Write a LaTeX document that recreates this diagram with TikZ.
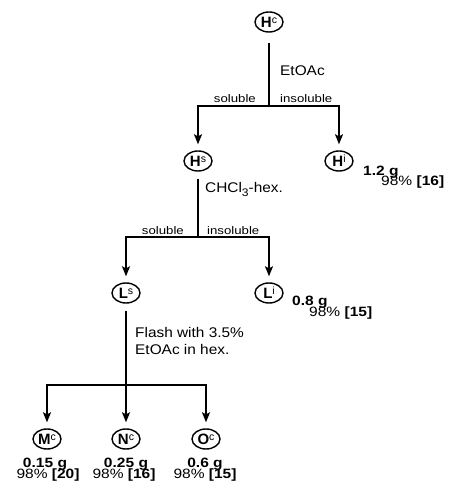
\documentclass[tikz,border=0pt]{standalone}
\usepackage{fontspec}
\usepackage{graphicx}
\setmainfont{Liberation Sans}
\newfontfamily\labf[FakeStretch=1.1]{Liberation Sans}
\newfontfamily\solf[FakeStretch=1.2]{Liberation Sans}
\usetikzlibrary{arrows.meta,shapes.geometric}
\newcommand{\cmpd}[2]{\textbf{#1}\raisebox{4pt}{\fontsize{10.5}{10}\selectfont #2}}
\newcommand{\dtx}[1]{\scalebox{1.15}[1]{#1}}
\begin{document}
\begin{tikzpicture}[x=1pt,y=1pt,
  cmp/.style={ellipse,draw,line width=1.4pt,minimum width=28pt,minimum height=20pt,inner sep=0pt,font=\fontsize{15}{15}\selectfont},
  ln/.style={line width=1.2pt},
  arr/.style={ln,-{Stealth[length=10pt,width=8pt,inset=2pt]},shorten >=6pt},
  lab/.style={font=\labf\fontsize{14}{14}\selectfont,inner sep=0pt},
  sol/.style={font=\solf\fontsize{11}{11}\selectfont,inner sep=0pt},
  dat/.style={font=\fontsize{13.5}{13}\selectfont,inner sep=0pt}]
\useasboundingbox (0,0) rectangle (448,489);
% compounds
\node[cmp] (Hc) at (269,467) {\cmpd{H}{c}};
\node[cmp] (Hs) at (198,328) {\cmpd{H}{s}};
\node[cmp] (Hi) at (339,328) {\cmpd{H}{i}};
\node[cmp] (Ls) at (126,196) {\cmpd{L}{s}};
\node[cmp] (Li) at (269,196) {\cmpd{L}{i}};
\node[cmp] (Mc) at (47,50) {\cmpd{M}{c}};
\node[cmp] (Nc) at (126,50) {\cmpd{N}{c}};
\node[cmp] (Oc) at (206,50) {\cmpd{O}{c}};
% junctions
\coordinate (j1) at (269,383);
\coordinate (j2) at (198,252);
\coordinate (j3) at (126,104);
% connectors
\draw[ln,shorten <=10pt] (Hc.south) -- (j1);
\draw[arr] (j1) -| (Hs.north);
\draw[arr] (j1) -| (Hi.north);
\draw[ln,shorten <=7pt] (Hs.south) -- (j2);
\draw[arr] (j2) -| (Ls.north);
\draw[arr] (j2) -| (Li.north);
\draw[ln,shorten <=7pt] (Ls.south) -- (j3);
\draw[arr] (j3) -| (Mc.north);
\draw[arr] (j3) -- (Nc.north);
\draw[arr] (j3) -| (Oc.north);
% labels
\node[lab,anchor=base west] (t1) at (280,413) {EtOAc};
\node[sol,anchor=base east] (s1) at (256,386) {soluble};
\node[sol,anchor=base west] (i1) at (280,386) {insoluble};
\node[lab,anchor=base west] (t2) at (205,296) {CHCl\raisebox{-3.5pt}{\fontsize{11}{11}\selectfont 3}-hex.};
\node[sol,anchor=base east] (s2) at (184,254) {soluble};
\node[sol,anchor=base west] (i2) at (207,254) {insoluble};
\node[lab,anchor=base west] (t3a) at (135,151) {Flash with 3.5\%};
\node[lab,anchor=base west] (t3b) at (135,134) {EtOAc in hex.};
% data
\node[dat,anchor=base west] (hi1) at (363,313) {\dtx{\textbf{1.2 g}}};
\node[dat,anchor=base west] (hi2) at (381,303) {\dtx{98\% \textbf{[16]}}};
\node[dat,anchor=base west] (li1) at (292,183) {\dtx{\textbf{0.8 g}}};
\node[dat,anchor=base west] (li2) at (309,172) {\dtx{98\% \textbf{[15]}}};
\node[dat,anchor=base] (m1) at (45,21) {\dtx{\textbf{0.15 g}}};
\node[dat,anchor=base] (m2) at (48,10) {\dtx{98\% \textbf{[20]}}};
\node[dat,anchor=base] (n1) at (126,21) {\dtx{\textbf{0.25 g}}};
\node[dat,anchor=base] (n2) at (124,10) {\dtx{98\% \textbf{[16]}}};
\node[dat,anchor=base] (o1) at (205,21) {\dtx{\textbf{0.6 g}}};
\node[dat,anchor=base] (o2) at (205,10) {\dtx{98\% \textbf{[15]}}};
\end{tikzpicture}
\end{document}
